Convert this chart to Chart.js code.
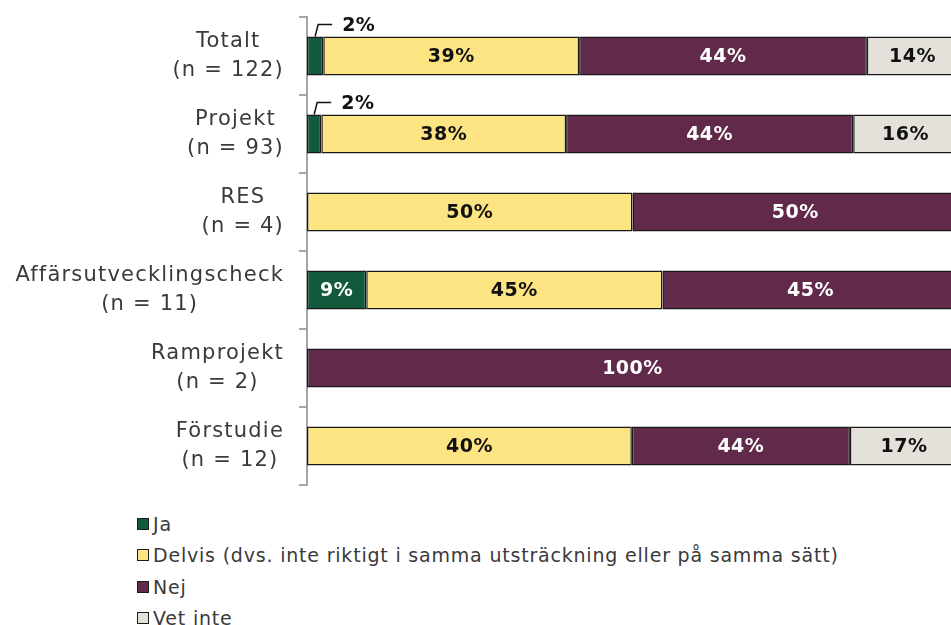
<!DOCTYPE html>
<html>
<head>
<meta charset="utf-8">
<script src="https://cdn.jsdelivr.net/npm/chart.js@4"></script>
<style>
  html, body { margin: 0; padding: 0; background: #fff; overflow: hidden; }
  #wrap { position: absolute; left: 0; top: 0; width: 958px; height: 492px; }
  #legend { position: absolute; left: 137px; top: 508px; font-family: "DejaVu Sans", sans-serif; font-size: 19px; letter-spacing: 0.8px; color: #3a3a3a; }
  .item { height: 31.5px; display: flex; align-items: center; }
  .box { width: 10px; height: 10px; border: 1.5px solid #1a1a1a; margin-right: 4px; }
</style>
</head>
<body>
<div id="wrap"><canvas id="chart"></canvas></div>
<div id="legend"></div>
<script>
const categories = [
    ['Totalt', '(n = 122)'],
    ['Projekt', '(n = 93)'],
    ['RES', '(n = 4)'],
    ['Affärsutvecklingscheck', '(n = 11)'],
    ['Ramprojekt', '(n = 2)'],
    ['Förstudie', '(n = 12)']
];
const seriesNames = ['Ja', 'Delvis (dvs. inte riktigt i samma utsträckning eller på samma sätt)', 'Nej', 'Vet inte'];

// bar lengths
const jaValues = [2.5, 2.2, 0, 9.1, 0, 0];
const delvisValues = [39.3, 37.6, 50, 45.5, 0, 49.9];
const nejValues = [44.2, 44.1, 50, 45.5, 100, 33.5];
const vetInteValues = [14, 16.1, 0, 0, 0, 16.6];

// printed labels
const jaLabels = ['2%', '2%', '', '9%', '', ''];
const delvisLabels = ['39%', '38%', '50%', '45%', '', '40%'];
const nejLabels = ['44%', '44%', '50%', '45%', '100%', '44%'];
const vetInteLabels = ['14%', '16%', '', '', '', '17%'];

const colors = ['#135a3c', '#fde483', '#622a4a', '#e3e1d9'];
const textColors = ['#ffffff', '#111111', '#ffffff', '#111111'];
const allValues = [jaValues, delvisValues, nejValues, vetInteValues];
const allLabels = [jaLabels, delvisLabels, nejLabels, vetInteLabels];

const FONT = '"DejaVu Sans", sans-serif';

const barLabels = {
    id: 'barLabels',
    afterDatasetsDraw(chart) {
        const ctx = chart.ctx;
        ctx.save();
        ctx.font = 'bold 19px ' + FONT;
        ctx.letterSpacing = '0.5px';
        ctx.textBaseline = 'middle';
        chart.data.datasets.forEach((ds, di) => {
            const meta = chart.getDatasetMeta(di);
            meta.data.forEach((bar, i) => {
                const txt = allLabels[di][i];
                if (!txt) return;
                const w = Math.abs(bar.x - bar.base);
                if (w < 25) {
                    // callout above the bar
                    const cx = (bar.x + bar.base) / 2;
                    const top = bar.y - bar.height / 2;
                    ctx.strokeStyle = '#111';
                    ctx.lineWidth = 1.5;
                    ctx.beginPath();
                    ctx.moveTo(cx, top);
                    ctx.lineTo(cx + 3, top - 12);
                    ctx.lineTo(cx + 17, top - 12);
                    ctx.stroke();
                    ctx.fillStyle = '#111';
                    ctx.textAlign = 'left';
                    ctx.fillText(txt, cx + 27, top - 10);
                } else {
                    ctx.fillStyle = textColors[di];
                    ctx.textAlign = 'center';
                    ctx.fillText(txt, (bar.x + bar.base) / 2, bar.y + 1);
                }
            });
        });
        ctx.restore();
    }
};

const catLabels = {
    id: 'catLabels',
    afterDraw(chart) {
        const ctx = chart.ctx;
        const y = chart.scales.y;
        ctx.save();
        ctx.font = '21px ' + FONT;
        ctx.letterSpacing = '1.2px';
        ctx.fillStyle = '#3a3a3a';
        ctx.textAlign = 'center';
        ctx.textBaseline = 'middle';
        categories.forEach((lines, i) => {
            const py = y.getPixelForValue(i);
            const maxW = Math.max(...lines.map(l => ctx.measureText(l).width));
            const cx = 284 - maxW / 2;
            ctx.fillText(lines[0], cx, py - 14);
            ctx.fillText(lines[1], cx, py + 15);
        });
        ctx.restore();
    }
};

new Chart(document.getElementById('chart'), {
    type: 'bar',
    data: {
        labels: categories,
        datasets: allValues.map((vals, di) => ({
            label: seriesNames[di],
            data: vals,
            backgroundColor: colors[di],
            borderColor: '#1a1a1a',
            borderWidth: 1.5,
            borderSkipped: false,
            categoryPercentage: 1,
            barPercentage: 0.5
        }))
    },
    options: {
        indexAxis: 'y',
        responsive: true,
        maintainAspectRatio: false,
        animation: false,
        layout: { padding: { top: 17, bottom: 7, left: 0, right: 0 } },
        scales: {
            x: { stacked: true, display: false, min: 0, max: 100 },
            y: {
                stacked: true,
                offset: true,
                grid: { drawOnChartArea: false, offset: true, tickLength: 8, color: '#a6a6a6', lineWidth: 2 },
                border: { color: '#a6a6a6', width: 2 },
                ticks: { display: false },
                afterFit(scale) { scale.width = 307; }
            }
        },
        plugins: { legend: { display: false }, tooltip: { enabled: false } }
    },
    plugins: [barLabels, catLabels]
});

// legend
const legend = document.getElementById('legend');
seriesNames.forEach((name, i) => {
    const item = document.createElement('div');
    item.className = 'item';
    item.innerHTML = `<span class="box" style="background:${colors[i]}"></span><span>${name}</span>`;
    legend.appendChild(item);
});
</script>
</body>
</html>
